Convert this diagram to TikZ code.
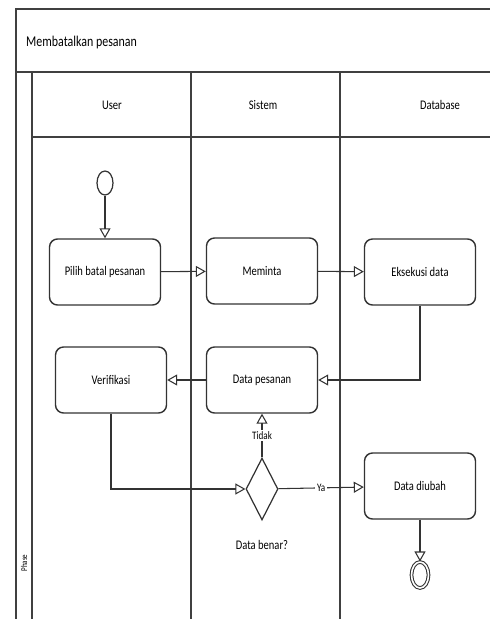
\documentclass[tikz,border=0pt]{standalone}
\usepackage{fontspec}
\setmainfont{Carlito}[FakeStretch=0.8]
\usetikzlibrary{arrows.meta,shapes.geometric}
\begin{document}
\begin{tikzpicture}[x=0.02cm, y=-0.02cm, font=\fontsize{7.5}{9}\selectfont,
  lane_style/.style={draw=black!75, line width=0.8pt},
  action_style/.style={draw=black!80, line width=0.8pt, rounded corners=0.16cm, minimum width=2.22cm, minimum height=1.32cm, align=center},
  start_style/.style={ellipse, draw=black!80, line width=0.7pt, minimum width=0.32cm, minimum height=0.48cm, inner sep=0pt},
  end_style/.style={ellipse, draw=black!80, line width=0.6pt, double, double distance=0.9pt, minimum width=0.34cm, minimum height=0.52cm, inner sep=0pt},
  decision_style/.style={diamond, draw=black!80, line width=0.7pt, minimum width=0.64cm, minimum height=1.24cm, inner sep=0pt, aspect=0.5},
  edge_style/.style={draw=black!80, line width=0.6pt, -{Triangle[open, length=2mm, width=2.2mm]}},
  label_style/.style={fill=white, inner sep=1pt, font=\fontsize{6.5}{7}\selectfont}]
      \useasboundingbox (0,0) rectangle (490,619);
      % swimlane frame
      \draw[lane_style] (490,9) -- (16,9) -- (16,619);
      \draw[lane_style] (16,72) -- (490,72);
      \draw[lane_style] (32,137) -- (490,137);
      \draw[lane_style] (32,72) -- (32,619);
      \draw[lane_style] (191,72) -- (191,619);
      \draw[lane_style] (340,72) -- (340,619);
      \draw
        (20,43) node[anchor=west, font=\fontsize{8.5}{10}\selectfont] (title){Membatalkan pesanan}
        (112,105) node (user){User}
        (263,105) node (sistem){Sistem}
        (440,105) node (database){Database}
        (24,563) node[rotate=90, font=\fontsize{5}{6}\selectfont] (phase){Phase};
      % actions
      \draw
        (105,183) node[start_style] (start){}
        (105,272) node[action_style] (pilih){Pilih batal pesanan}
        (262,271) node[action_style] (minta){Meminta}
        (420,272) node[action_style] (eksekusi){Eksekusi data}
        (111,380) node[action_style] (verif){Verifikasi}
        (262,380) node[action_style] (datapsn){Data pesanan}
        (262,489) node[decision_style] (cek){}
        (262,545) node (cektext){Data benar?}
        (420,486) node[action_style] (dibuah){Data diubah}
        (420,575) node[end_style] (final){};
      \begin{scope}
        \draw[edge_style] (start) to (pilih);
        \draw[edge_style] (pilih) to (minta);
        \draw[edge_style] (minta) to (eksekusi);
        \draw[edge_style] (eksekusi) |- (datapsn);
        \draw[edge_style] (datapsn) to (verif);
        \draw[edge_style] (verif) |- (cek);
        \draw[edge_style] (cek) to node[label_style] (tidak){Tidak} (datapsn);
        \draw[edge_style] (cek) to node[label_style] (ya){Ya} (dibuah);
        \draw[edge_style] (dibuah) to (final);
      \end{scope}
    \end{tikzpicture}
\end{document}
